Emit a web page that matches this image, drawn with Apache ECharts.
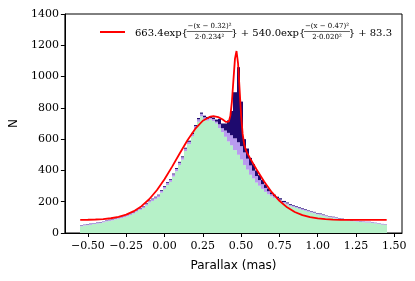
<!DOCTYPE html>
<html><head><meta charset="utf-8">
<script src="https://cdn.jsdelivr.net/npm/echarts@6/dist/echarts.min.js"></script>
<style>html,body{margin:0;padding:0;background:#fff}#c{width:415px;height:281px}</style>
</head><body><div id="c"></div>
<script>
// Histogram bins (parallax, mas)
const BIN_START = -0.55;
const BIN_WIDTH = 0.02;
const greenCounts = [
 43,48,50,52,58,60,63,68,74,77,
 81,87,91,95,101,107,115,124,136,148,
 159,176,195,205,217,229,258,283,307,327,
 361,395,435,469,524,568,618,667,711,746,
 725,718,725,715,700,670,645,615,585,560,
 530,500,470,435,405,372,348,322,302,282,
 263,247,234,224,214,206,191,182,173,167,
 161,154,147,142,136,131,126,119,116,110,
 105,101,97,93,88,85,81,79,76,75,
 73,71,69,67,67,65,61,58,54,52];
const purpleCounts = [
 5,6,5,6,5,6,5,6,6,6,
 7,6,7,7,7,8,8,8,9,9,
 10,10,10,11,11,12,12,12,13,13,
 14,14,14,15,15,15,15,16,16,16,
 15,12,10,13,12,25,25,40,55,65,
 75,80,85,80,70,60,50,42,36,30,
 25,20,14,11,9,8,7,8,7,7,
 7,7,7,6,6,6,6,6,6,5,
 5,5,5,5,5,5,5,4,4,4,
 4,4,4,4,4,4,4,3,3,3];
const navyCounts = [
 2,1,2,2,1,2,2,1,2,2,
 2,2,2,3,2,3,2,3,3,3,
 3,4,3,4,4,4,5,5,5,5,
 5,6,6,6,6,7,7,7,8,8,
 10,12,10,10,13,35,30,45,80,155,
 295,480,285,85,65,48,42,36,32,28,
 22,18,12,10,9,8,7,5,5,4,
 4,4,4,4,3,3,3,3,3,3,
 2,2,2,2,2,2,2,2,2,1,
 1,1,1,1,1,1,1,1,1,1];
// Fit curve samples
const fitX = [-0.55,-0.50,-0.45,-0.40,-0.35,-0.30,-0.25,-0.20,-0.15,-0.10,-0.05,0.00,0.05,0.10,0.15,0.20,0.25,0.30,0.32,0.35,0.38,0.40,0.41,0.42,0.43,0.44,0.45,0.46,0.47,0.48,0.49,0.50,0.51,0.52,0.53,0.54,0.56,0.60,0.65,0.70,0.75,0.80,0.85,0.90,0.95,1.00,1.05,1.10,1.15,1.20,1.25,1.30,1.35,1.40,1.45];
const fitY = [84.0,84.7,86.3,89.1,94.3,103.1,117.4,139.5,171.6,215.8,273.4,343.8,424.2,509.7,592.9,665.0,717.6,744.3,746.7,741.3,725.3,710.2,705.4,712.5,750.4,840.3,979.3,1114.6,1163.5,1085.0,920.4,752.1,633.5,567.4,532.8,510.9,475.4,407.6,328.7,260.8,205.9,164.2,134.3,114.0,101.0,93.0,88.4,85.9,84.5,83.9,83.5,83.4,83.3,83.3,83.3];
const fitName = '663.4exp{−(x−0.32)²/(2·0.234²)} + 540.0exp{−(x−0.47)²/(2·0.020²)} + 83.3';
const legendPieces = ['663.4exp{', ['−(x − 0.32)²', '2·0.234²'], '} + 540.0exp{', ['−(x − 0.47)²', '2·0.020²'], '} + 83.3'];
const xTicks = [-0.5,-0.25,0,0.25,0.5,0.75,1,1.25,1.5];
const xLabel = 'Parallax (mas)';
const yLabel = 'N';

function layerData(bottoms, counts){
  return counts.map((c,i)=>{
    const x0 = BIN_START + i*BIN_WIDTH, x1 = x0 + BIN_WIDTH;
    return [x0, x1, bottoms[i], bottoms[i]+c];
  });
}
const zeros = greenCounts.map(()=>0);
const purpleBase = greenCounts.slice();
const navyBase = greenCounts.map((g,i)=>g+purpleCounts[i]);

function rectRender(color){
  return function(params, api){
    const p0 = api.coord([api.value(0), api.value(3)]);
    const p1 = api.coord([api.value(1), api.value(2)]);
    const x0 = Math.round(p0[0]), x1 = Math.round(p1[0]);
    return {type:'rect', shape:{x:x0, y:p0[1], width:x1-x0, height:p1[1]-p0[1]}, style:{fill:color}};
  };
}
function histSeries(name, data, color){
  return {type:'custom', name, data, renderItem: rectRender(color), encode:{x:[0,1], y:[2,3]}, silent:true, z:2};
}

// legend layout (text flow measured with canvas)
const mainFont = '10px "DejaVu Serif"', fracFont = '7px "DejaVu Serif"';
const ctx = document.createElement('canvas').getContext('2d');
function tw(t, f){ ctx.font = f; return ctx.measureText(t).width; }
const legendY = 32;
const legendStart = 135, legendEnd = 392;
let natural = 0;
legendPieces.forEach(p=>{ natural += Array.isArray(p) ? Math.max(tw(p[0],fracFont), tw(p[1],fracFont)) + 2 : tw(p, mainFont); });
const extra = (legendEnd - legendStart - natural) / 4;
const graphics = [{type:'line', shape:{x1:100, y1:legendY, x2:125, y2:legendY}, style:{stroke:'#ff0000', lineWidth:2}}];
let cx = legendStart;
legendPieces.forEach((p, k)=>{
  if (Array.isArray(p)) {
    const w = Math.max(tw(p[0],fracFont), tw(p[1],fracFont)) + 2;
    const mid = cx + w/2;
    graphics.push({type:'text', x:mid, y:legendY-5.5, style:{text:p[0], font:fracFont, fill:'#000', verticalAlign:'middle', align:'center'}});
    graphics.push({type:'line', shape:{x1:cx, y1:legendY-0.5, x2:cx+w, y2:legendY-0.5}, style:{stroke:'#000', lineWidth:0.6}});
    graphics.push({type:'text', x:mid, y:legendY+5, style:{text:p[1], font:fracFont, fill:'#000', verticalAlign:'middle', align:'center'}});
    cx += w;
  } else {
    graphics.push({type:'text', x:cx, y:legendY+1, style:{text:p, font:mainFont, fill:'#000', verticalAlign:'middle', align:'left'}});
    cx += tw(p, mainFont);
  }
  if (k < legendPieces.length-1) cx += extra;
});

const chart = echarts.init(document.getElementById('c'), null, {renderer:'canvas'});
const serif = 'DejaVu Serif';
chart.setOption({
  animation:false,
  grid:{left:61, right:13, top:14, bottom:48, show:true, borderColor:'#000', borderWidth:1, backgroundColor:'transparent'},
  xAxis:{type:'value', min:-0.65, max:1.55,
    name:xLabel, nameLocation:'middle', nameGap:27,
    nameTextStyle:{fontFamily:'DejaVu Sans', fontSize:12, color:'#000'},
    axisLine:{show:true, onZero:false, lineStyle:{color:'#000', width:1}},
    axisTick:{show:true, length:4, lineStyle:{color:'#000'}, customValues:xTicks},
    axisLabel:{customValues:xTicks, margin:8, fontFamily:serif, fontSize:11, color:'#000',
      formatter:v=>v.toFixed(2).replace('-','−')},
    splitLine:{show:false}},
  yAxis:{type:'value', min:0, max:1400, interval:200,
    name:yLabel, nameLocation:'middle', nameGap:32,
    nameTextStyle:{fontFamily:'DejaVu Sans', fontSize:12, color:'#000'},
    axisLine:{show:true, onZero:false, lineStyle:{color:'#000', width:1}},
    axisTick:{show:true, length:4, lineStyle:{color:'#000'}},
    axisLabel:{margin:6, fontFamily:serif, fontSize:11, color:'#000', formatter:v=>String(v)},
    splitLine:{show:false}},
  series:[
    histSeries('green', layerData(zeros, greenCounts), '#b6f1c8'),
    histSeries('purple', layerData(purpleBase, purpleCounts), '#b99bef'),
    histSeries('navy', layerData(navyBase, navyCounts), '#1e0a6e'),
    {type:'line', name:fitName, data:fitX.map((x,i)=>[x, fitY[i]]), showSymbol:false,
      lineStyle:{color:'#ff0000', width:1.8}, itemStyle:{color:'#ff0000'}, z:5, silent:true}
  ],
  graphic:graphics
});
</script></body></html>
